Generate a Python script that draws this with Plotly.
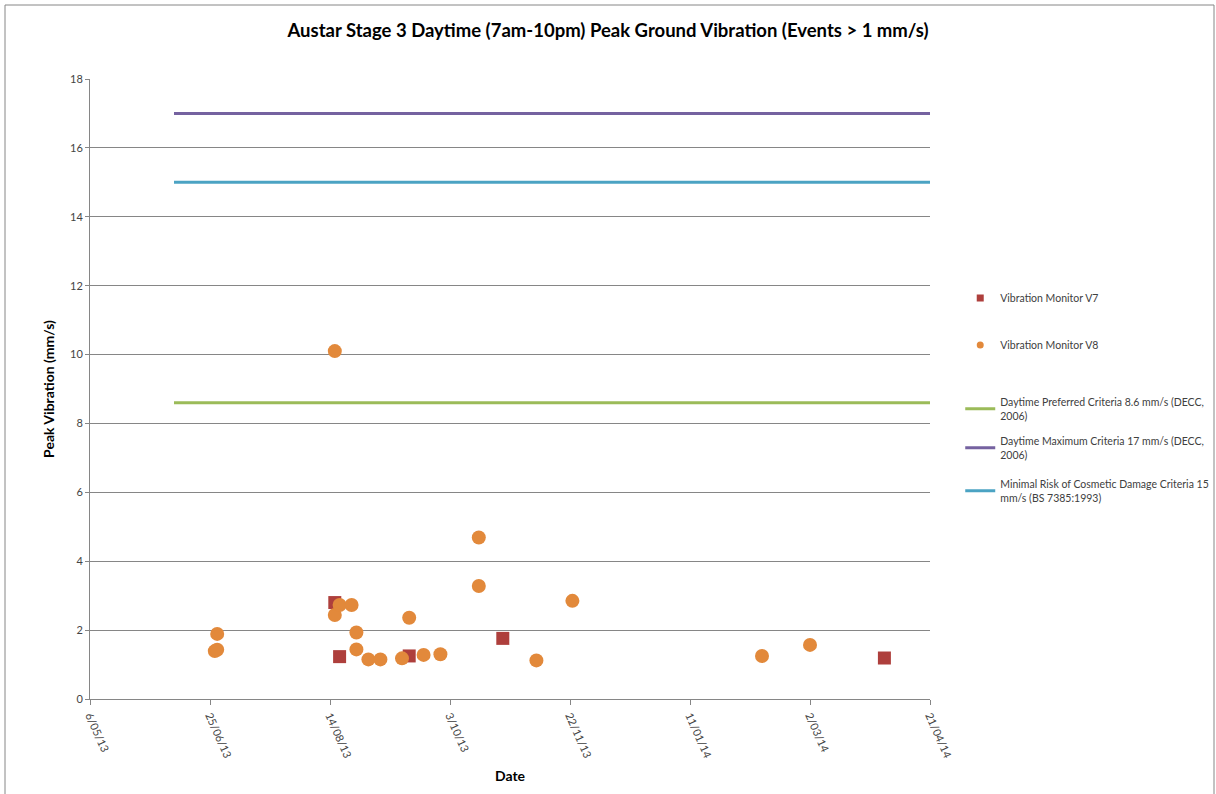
import plotly.graph_objects as go

# ---- data ----
v7_dates = ["2013-08-16", "2013-08-18", "2013-09-16", "2013-10-25", "2014-04-02"]
v7_vals = [2.80, 1.23, 1.25, 1.76, 1.19]

v8_dates = ["2013-06-28", "2013-06-27", "2013-06-28", "2013-08-16", "2013-08-16",
            "2013-08-18", "2013-08-23", "2013-08-25", "2013-08-25", "2013-08-30",
            "2013-09-04", "2013-09-13", "2013-09-16", "2013-09-22", "2013-09-29",
            "2013-10-15", "2013-10-15", "2013-11-08", "2013-11-23", "2014-02-10",
            "2014-03-02"]
v8_vals = [1.89, 1.39, 1.43, 10.10, 2.44,
           2.73, 2.73, 1.93, 1.44, 1.15,
           1.15, 1.18, 2.36, 1.28, 1.30,
           4.69, 3.28, 1.12, 2.85, 1.25,
           1.57]

crit_dates = ["2013-06-10", "2014-04-21"]
preferred = [8.6, 8.6]
maximum = [17, 17]
cosmetic = [15, 15]

tick_dates = ["2013-05-06", "2013-06-25", "2013-08-14", "2013-10-03",
              "2013-11-22", "2014-01-11", "2014-03-02", "2014-04-21"]
tick_labels = ["6/05/13", "25/06/13", "14/08/13", "3/10/13",
               "22/11/13", "11/01/14", "2/03/14", "21/04/14"]

names = ["Vibration Monitor V7",
         "Vibration Monitor V8",
         "Daytime Preferred Criteria 8.6 mm/s (DECC,<br>2006)",
         "Daytime Maximum Criteria 17 mm/s (DECC,<br>2006)",
         "Minimal Risk of Cosmetic Damage Criteria 15<br>mm/s (BS 7385:1993)"]

FONT = "Lato, 'Open Sans', sans-serif"
C_V7, C_V8 = "#AE3F3C", "#E2893B"
C_G, C_P, C_B = "#9BBB59", "#7562A0", "#4BA3C3"

fig = go.Figure()
# data traces (legend shown via small-marker proxies)
fig.add_trace(go.Scatter(x=v7_dates, y=v7_vals, mode="markers", showlegend=False,
                         marker=dict(symbol="square", size=13, color=C_V7)))
fig.add_trace(go.Scatter(x=v8_dates, y=v8_vals, mode="markers", showlegend=False,
                         marker=dict(symbol="circle", size=14, color=C_V8)))
fig.add_trace(go.Scatter(x=crit_dates, y=preferred, mode="lines", name=names[2],
                         legend="legend3", line=dict(color=C_G, width=3)))
fig.add_trace(go.Scatter(x=crit_dates, y=maximum, mode="lines", name=names[3],
                         legend="legend4", line=dict(color=C_P, width=3)))
fig.add_trace(go.Scatter(x=crit_dates, y=cosmetic, mode="lines", name=names[4],
                         legend="legend5", line=dict(color=C_B, width=3)))
# legend proxies for marker series
fig.add_trace(go.Scatter(x=[None], y=[None], mode="markers", name=names[0], legend="legend",
                         marker=dict(symbol="square", size=7, color=C_V7)))
fig.add_trace(go.Scatter(x=[None], y=[None], mode="markers", name=names[1], legend="legend2",
                         marker=dict(symbol="circle", size=7, color=C_V8)))

lfont = dict(size=10.5, family=FONT, color="#404040")
def leg(ypix):
    return dict(x=1.036, xanchor="left", y=(699 - ypix) / 620, yanchor="middle",
                font=lfont, bgcolor="rgba(0,0,0,0)", itemwidth=30, borderwidth=0)

fig.update_layout(
    width=1216, height=794,
    margin=dict(l=90, r=286, t=79, b=95, autoexpand=False),
    paper_bgcolor="white", plot_bgcolor="white",
    font=dict(family=FONT, color="#000000"),
    title=dict(text="<b>Austar Stage 3 Daytime (7am-10pm) Peak Ground Vibration (Events > 1 mm/s)</b>",
               x=0.5, xanchor="center", y=0.961, yanchor="middle",
               font=dict(size=18.5, family=FONT, color="#000")),
    showlegend=True,
    legend=leg(298),
    legend2=leg(345),
    legend3=leg(409),
    legend4=leg(448),
    legend5=leg(491),
    xaxis=dict(range=["2013-05-06", "2014-04-21"], tickmode="array",
               tickvals=tick_dates, ticktext=tick_labels, tickangle=66,
               showgrid=False, showline=True, linecolor="#868686", linewidth=1,
               ticks="outside", ticklen=5, tickcolor="#868686",
               tickfont=dict(size=11, color="#444", family=FONT),
               title=dict(text="<b>Date</b>", font=dict(size=14, family=FONT), standoff=11),
               zeroline=False, automargin=False),
    yaxis=dict(range=[0, 18], dtick=2, tick0=0,
               showgrid=True, gridcolor="#868686", gridwidth=1,
               showline=True, linecolor="#868686", linewidth=1,
               ticks="outside", ticklen=4, tickcolor="#868686",
               tickfont=dict(size=11, color="#444", family=FONT),
               title=dict(text="<b>Peak Vibration (mm/s)</b>", font=dict(size=14, family=FONT), standoff=12),
               zeroline=False, automargin=False),
)

# chart-area border
fig.add_shape(type="rect", xref="paper", yref="paper",
              x0=(5 - 90) / 840, x1=(1214 - 90) / 840,
              y0=(699 - 800) / 620, y1=(699 - 5) / 620,
              line=dict(color="#868686", width=1), fillcolor="rgba(0,0,0,0)", layer="below")

fig.write_html("out.html")
